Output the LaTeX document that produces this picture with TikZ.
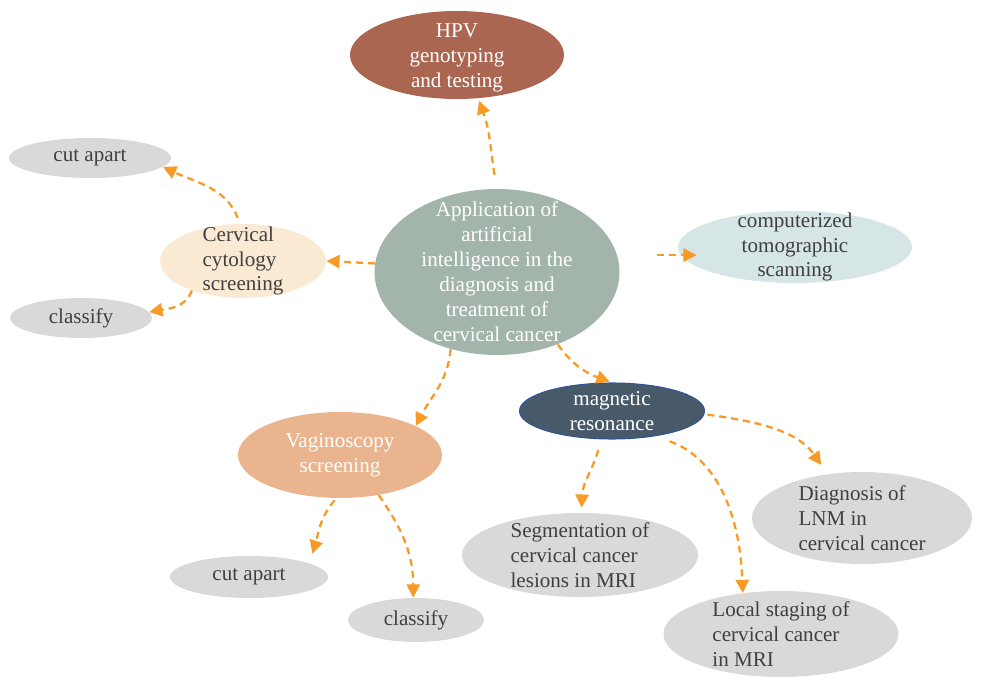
\documentclass[tikz,border=0pt]{standalone}
\usepackage{fontspec}
\setmainfont{Liberation Serif}
\usetikzlibrary{shapes.geometric,arrows.meta}
\definecolor{hpvbrown}{RGB}{170,102,80}
\definecolor{appgreen}{RGB}{163,181,170}
\definecolor{cytocream}{RGB}{250,234,212}
\definecolor{leafgray}{RGB}{217,217,217}
\definecolor{ctblue}{RGB}{214,229,230}
\definecolor{mrslate}{RGB}{72,90,106}
\definecolor{mrrim}{RGB}{47,85,151}
\definecolor{vagpeach}{RGB}{234,180,142}
\definecolor{arroworange}{RGB}{247,155,38}
\definecolor{darktext}{RGB}{64,64,64}
\begin{document}
\begin{tikzpicture}[
    blob/.style={ellipse, inner sep=0pt},
    txt/.style={font=\fontsize{12}{14.2}\selectfont, text=darktext, align=left},
    wtxt/.style={font=\fontsize{12}{14.2}\selectfont, text=white, align=center},
    flow/.style={draw=arroworange, line width=1.3pt, dash pattern=on 4pt off 2.8pt,
      -{Triangle[length=7.5pt,width=7.5pt]}}
  ]
    \useasboundingbox (0,0) rectangle (19.76,-13.54);

    \node[blob, fill=hpvbrown, minimum width=4.28cm, minimum height=1.76cm,
      label={[wtxt, yshift=-0.05cm]center:HPV\\genotyping\\and testing}] (hpv) at (9.14,-1.10) {};
    \node[blob, fill=appgreen, minimum width=4.9cm, minimum height=3.32cm,
      label={[wtxt]center:Application of\\artificial\\intelligence in the\\diagnosis and\\treatment of\\cervical cancer}] (app) at (9.94,-5.44) {};
    \node[blob, fill=cytocream, minimum width=3.32cm, minimum height=1.48cm,
      label={[txt]center:Cervical\\cytology\\screening}] (cyto) at (4.86,-5.22) {};
    \node[blob, fill=leafgray, minimum width=3.24cm, minimum height=0.8cm,
      label={[txt]center:cut apart}] (cuta) at (1.80,-3.16) {};
    \node[blob, fill=leafgray, minimum width=2.84cm, minimum height=0.8cm,
      label={[txt]center:classify}] (clsa) at (1.62,-6.36) {};
    \node[blob, fill=ctblue, minimum width=4.68cm, minimum height=1.44cm,
      label={[txt, align=center]center:computerized\\tomographic\\scanning}] (ct) at (15.90,-4.94) {};
    \node[blob, fill=mrslate, draw=mrrim, line width=0.6pt, minimum width=3.70cm, minimum height=1.12cm,
      label={[wtxt]center:magnetic\\resonance}] (mr) at (12.24,-8.22) {};
    \node[blob, fill=vagpeach, minimum width=4.08cm, minimum height=1.72cm,
      label={[wtxt]center:Vaginoscopy\\screening}] (vag) at (6.80,-9.10) {};
    \node[blob, fill=leafgray, minimum width=3.16cm, minimum height=0.84cm,
      label={[txt]center:cut apart}] (cutb) at (4.98,-11.54) {};
    \node[blob, fill=leafgray, minimum width=2.72cm, minimum height=0.88cm,
      label={[txt]center:classify}] (clsb) at (8.32,-12.40) {};
    \node[blob, fill=leafgray, minimum width=4.72cm, minimum height=1.68cm,
      label={[txt]center:Segmentation of\\cervical cancer\\lesions in MRI}] (seg) at (11.60,-11.10) {};
    \node[blob, fill=leafgray, minimum width=4.40cm, minimum height=1.84cm,
      label={[txt]center:Diagnosis of\\LNM in\\cervical cancer}] (lnm) at (17.24,-10.36) {};
    \node[blob, fill=leafgray, minimum width=4.70cm, minimum height=1.72cm,
      label={[txt]center:Local staging of\\cervical cancer\\in MRI}] (loc) at (15.62,-12.68) {};

    \draw[flow, shorten <=0.28cm, shorten >=0.05cm] (app.north) to[out=100,in=-70] (hpv.-64);
    \draw[flow] (app.176) -- (cyto.east);
    \draw[flow, shorten <=0.8cm, shorten >=-0.38cm] (app.8) -- (app.8 -| ct.west);
    \draw[flow, shorten <=0.12cm] (cyto.95) to[out=110,in=-25] (cuta.-7);
    \draw[flow] (cyto.210) to[out=-110,in=10] (clsa.5);
    \draw[flow] (app.239) to[out=-95,in=63] (vag.21);
    \draw[flow, shorten >=0.05cm] (app.-50) to[out=-55,in=160] (mr.north);
    \draw[flow, shorten <=0.05cm, shorten >=0.2cm] (vag.-95) to[out=-130,in=72] (cutb.13);
    \draw[flow] (vag.-46) to[out=-55,in=90] (clsb.97);
    \draw[flow, shorten <=0.22cm, shorten >=0.1cm] (mr.-111) to[out=-105,in=88] (seg.88);
    \draw[flow, shorten <=0.3cm] (mr.-30) to[out=-20,in=92] (loc.133);
    \draw[flow, shorten <=0.06cm, shorten >=0.22cm] (mr.-2) to[out=-8,in=125] (lnm.128);
\end{tikzpicture}
\end{document}
